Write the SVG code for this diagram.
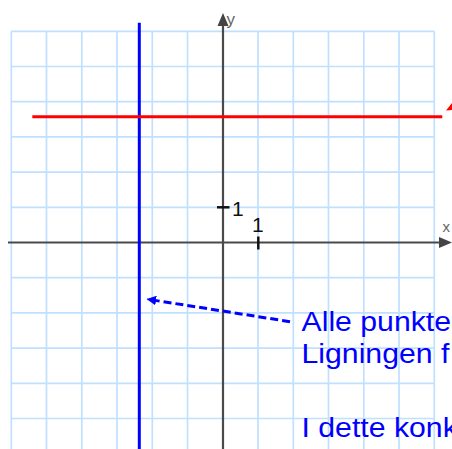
<svg xmlns="http://www.w3.org/2000/svg" width="452" height="449" viewBox="0 0 452 449">
  <style>
    .grid line { stroke: #c0e0ff; stroke-width: 1.7; }
    .axis { stroke: #4a4a4a; stroke-width: 2.2; }
    .tick { stroke: #111111; stroke-width: 2.5; }
    .num { font-family: "Liberation Sans", Arial, sans-serif; font-size: 21px; fill: #111111; }
    .axlabel { font-family: "Liberation Sans", Arial, sans-serif; fill: #666666; }
    .note { font-family: "Liberation Sans", Arial, sans-serif; font-size: 27px; fill: #0000ff; }
  </style>
  <defs>
    <marker id="blueHead" viewBox="0 0 10 10" refX="9" refY="5" markerWidth="3.2" markerHeight="3.2" orient="auto" markerUnits="strokeWidth">
      <path d="M0,0 L10,5 L0,10 z" fill="#0000ff"/>
    </marker>
  </defs>
  <rect width="452" height="449" fill="#ffffff"/>
  <g id="grid" class="grid">
    <line x1="11.3" y1="31.3" x2="11.3" y2="449"/>
    <line x1="46.5" y1="31.3" x2="46.5" y2="449"/>
    <line x1="81.8" y1="31.3" x2="81.8" y2="449"/>
    <line x1="117" y1="31.3" x2="117" y2="449"/>
    <line x1="152.3" y1="31.3" x2="152.3" y2="449"/>
    <line x1="187.5" y1="31.3" x2="187.5" y2="449"/>
    <line x1="258" y1="31.3" x2="258" y2="449"/>
    <line x1="293.3" y1="31.3" x2="293.3" y2="449"/>
    <line x1="328.5" y1="31.3" x2="328.5" y2="449"/>
    <line x1="363.8" y1="31.3" x2="363.8" y2="449"/>
    <line x1="399" y1="31.3" x2="399" y2="449"/>
    <line x1="434.3" y1="31.3" x2="434.3" y2="449"/>
    <line x1="11.3" y1="31.3" x2="434.3" y2="31.3"/>
    <line x1="11.3" y1="66.5" x2="434.3" y2="66.5"/>
    <line x1="11.3" y1="101.7" x2="434.3" y2="101.7"/>
    <line x1="11.3" y1="136.9" x2="434.3" y2="136.9"/>
    <line x1="11.3" y1="172.1" x2="434.3" y2="172.1"/>
    <line x1="11.3" y1="207.3" x2="434.3" y2="207.3"/>
    <line x1="11.3" y1="277.7" x2="434.3" y2="277.7"/>
    <line x1="11.3" y1="312.9" x2="434.3" y2="312.9"/>
    <line x1="11.3" y1="348.1" x2="434.3" y2="348.1"/>
    <line x1="11.3" y1="383.3" x2="434.3" y2="383.3"/>
    <line x1="11.3" y1="418.5" x2="434.3" y2="418.5"/>
  </g>
  <g id="y-axis">
    <line class="axis" x1="223" y1="449" x2="223" y2="24"/>
    <polygon points="223,13 217.5,26 228.5,26" fill="#444444"/>
    <text class="axlabel" x="226.5" y="24.5" font-size="17">y</text>
  </g>
  <g id="x-axis">
    <line class="axis" x1="8" y1="242.5" x2="440" y2="242.5"/>
    <polygon points="452,242.5 439,237 439,248" fill="#444444"/>
    <text class="axlabel" x="442.5" y="232.3" font-size="15">x</text>
  </g>
  <g id="tick-y1">
    <line class="tick" x1="217" y1="207.3" x2="229.5" y2="207.3"/>
    <text class="num" x="232" y="216">1</text>
  </g>
  <g id="tick-x1">
    <line class="tick" x1="258.3" y1="236.5" x2="258.3" y2="249.5"/>
    <text class="num" x="252" y="232">1</text>
  </g>
  <g id="blue-line">
    <line x1="139.3" y1="22.7" x2="139.3" y2="449" stroke="#0000ff" stroke-width="3"/>
  </g>
  <g id="red-line">
    <line x1="32.3" y1="116.7" x2="442.3" y2="116.7" stroke="#ff0000" stroke-width="3"/>
    <polygon points="446,110.5 452,103 452,110" fill="#ff0000"/>
  </g>
  <g id="connectors">
    <line x1="290" y1="321.7" x2="147.5" y2="299.2" stroke="#0000ff" stroke-width="3" stroke-dasharray="8 4" marker-end="url(#blueHead)"/>
  </g>
  <g id="note">
    <text class="note" transform="translate(301.5 330.5) scale(1.12 1)">Alle punkte</text>
    <text class="note" transform="translate(301.5 363) scale(1.12 1)">Ligningen f</text>
    <text class="note" transform="translate(301.5 436.7) scale(1.12 1)">I dette konk</text>
  </g>
</svg>
